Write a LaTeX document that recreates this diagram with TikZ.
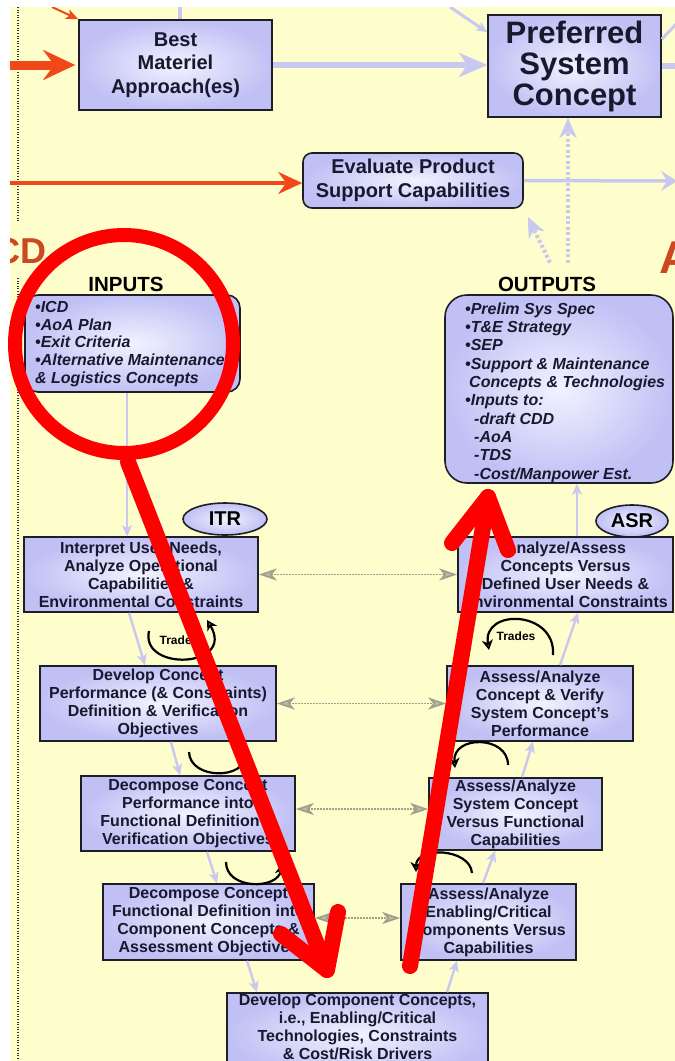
\documentclass[tikz,border=0pt]{standalone}
\usepackage{fontspec}
\setmainfont{Liberation Sans}
\usetikzlibrary{arrows.meta,shapes.geometric}

\definecolor{paper}{RGB}{254,253,204}
\definecolor{boxout}{RGB}{192,192,245}
\definecolor{boxin}{RGB}{242,242,255}
\definecolor{boxline}{RGB}{30,30,40}
\definecolor{txt}{RGB}{24,24,46}
\definecolor{lav}{RGB}{200,200,240}
\definecolor{flame}{RGB}{240,72,24}
\definecolor{dotgray}{RGB}{160,160,140}
\definecolor{brick}{RGB}{204,72,30}
\definecolor{penred}{RGB}{255,0,0}

\tikzset{
  stepbox/.style={draw=boxline, line width=1.6pt, inner color=boxin, outer color=boxout,
    align=center, text=txt, inner sep=0pt, font=\bfseries\fontsize{16}{18}\selectfont},
  roundbox/.style={stepbox, rounded corners=#1},
  listtext/.style={anchor=north west, align=left, inner sep=0pt, text=txt,
    font=\bfseries\itshape\fontsize{16}{#1}\selectfont},
  heading/.style={inner sep=0pt, text=black, font=\bfseries\fontsize{20.5}{24}\selectfont},
  review/.style={ellipse, draw=boxline, line width=1.6pt, inner color=boxin, outer color=boxout,
    inner sep=0pt, text=black, font=\bfseries\fontsize{20}{24}\selectfont},
  phase/.style={inner sep=0pt, text=brick},
  flow/.style={draw=lav, line width=2.4pt, -{Stealth[length=11pt,width=10pt,inset=3pt]}},
  bigflow/.style={draw=lav, line width=6pt, -{Stealth[length=28pt,width=24pt,inset=8pt]}},
  dotflow/.style={draw=lav, line width=4pt, dash pattern=on 3pt off 2.5pt,
    -{Stealth[length=20pt,width=17pt,inset=6pt]}},
  thickfeed/.style={draw=flame, line width=9pt, shorten >=3pt,
    -{Stealth[length=32pt,width=30pt,inset=11pt]}},
  feedline/.style={draw=flame, line width=3.5pt, -{Stealth[length=24pt,width=22pt,inset=8pt]}},
  thinfeed/.style={draw=flame, line width=2pt, -{Stealth[length=12pt,width=10pt,inset=3pt]}},
  link/.style={draw=dotgray, line width=1.8pt, dash pattern=on 1.6pt off 1.4pt,
    {Stealth[length=18pt,width=12pt,inset=5pt,fill=dotgray!70]}-{Stealth[length=18pt,width=12pt,inset=5pt,fill=dotgray!70]}},
  trade/.style={draw=black, line width=2.2pt, -{Stealth[length=10pt,width=11pt,inset=3pt,fill=lav]}},
  tradelbl/.style={inner sep=0pt, text=black, font=\bfseries\fontsize{12}{14}\selectfont},
  dotrule/.style={draw=black!80, line width=1.2pt, dash pattern=on 1pt off 1.6pt},
  penstroke/.style={draw=penred, line width=16pt, line cap=round, line join=round},
}

\begin{document}
\begin{tikzpicture}[x=1pt,y=-1pt]
\useasboundingbox (0,0) rectangle (675,1061);
\fill[white] (0,0) rectangle (675,1061);
\fill[paper] (10,7) rectangle (675,1061);

\begin{scope}
\clip (10,7) rectangle (675,1061);

% phase lettering cut by the sheet edges
\node[phase, anchor=base east, font=\bfseries\fontsize{36}{36}\selectfont] (phaseL) at (47,263) {CD};
\node[phase, anchor=base west, font=\bfseries\fontsize{46}{46}\selectfont] (phaseR) at (659,273) {A};

% dotted milestone rule on the left
\draw[dotrule] (18,7) -- (18,222);
\draw[dotrule] (18,278) -- (18,1061);

% top row
\node[stepbox, minimum width=193pt, minimum height=90pt, font=\bfseries\fontsize{20}{23.5}\selectfont]
  (best) at (175.5,65) {Best\\Materiel\\Approach(es)};
\node[stepbox, minimum width=173pt, minimum height=102pt, font=\bfseries\fontsize{31}{31}\selectfont]
  (pref) at (574.5,66) {Preferred\\System\\Concept};
\node[roundbox=9pt, minimum width=220pt, minimum height=55pt, font=\bfseries\fontsize{20}{24}\selectfont]
  (eval) at (413,180.5) {Evaluate Product\\Support Capabilities};

% inputs and outputs
\node[heading] (inlbl) at (126,284) {INPUTS};
\node[heading] (outlbl) at (547,284) {OUTPUTS};
\node[roundbox=13pt, minimum width=215pt, minimum height=97pt] (inbox) at (132.5,343.5) {};
\node[listtext=17.8] (intxt) at (35,301) {\textbullet ICD\\\textbullet AoA Plan\\\textbullet Exit Criteria\\\textbullet Alternative Maintenance\\\& Logistics Concepts};
\node[roundbox=22pt, minimum width=228pt, minimum height=188pt] (outbox) at (559,389) {};
\node[listtext=18.3] (outtxt) at (465,302.5) {\textbullet Prelim Sys Spec\\\textbullet T\&E Strategy\\\textbullet SEP\\\textbullet Support \& Maintenance\\\hspace*{4pt}Concepts \& Technologies\\\textbullet Inputs to:\\\hspace*{9pt}-draft CDD\\\hspace*{9pt}-AoA\\\hspace*{9pt}-TDS\\\hspace*{9pt}-Cost/Manpower Est.};

% technical reviews
\node[review, minimum width=84pt, minimum height=32pt] (itr) at (225,519) {ITR};
\node[review, minimum width=72pt, minimum height=32pt] (asr) at (632,521) {ASR};

% decomposition (left leg)
\node[stepbox, minimum width=234pt, minimum height=75pt] (l1) at (141,574.5)
  {Interpret User Needs,\\Analyze Operational\\Capabilities \&\\Environmental Constraints};
\node[stepbox, minimum width=236pt, minimum height=75pt] (l2) at (158,703.5)
  {Develop Concept\\Performance (\& Constraints)\\Definition \& Verification\\Objectives};
\node[stepbox, minimum width=214pt, minimum height=75pt] (l3) at (188,813.5)
  {Decompose Concept\\Performance into\\Functional Definition \&\\Verification Objectives};
\node[stepbox, minimum width=211pt, minimum height=76pt] (l4) at (208.5,922)
  {Decompose Concept\\Functional Definition into\\Component Concepts \&\\Assessment Objectives};

% bottom of the vee
\node[stepbox, minimum width=261pt, minimum height=84pt] (dev) at (357.5,1035) {};
\node[inner sep=0pt, align=center, text=txt, font=\bfseries\fontsize{16}{18}\selectfont] (devtxt) at (357.5,1027)
  {Develop Component Concepts,\\i.e., Enabling/Critical\\Technologies, Constraints\\\& Cost/Risk Drivers};

% assessment (right leg)
\node[stepbox, minimum width=215pt, minimum height=75pt] (r1) at (565.5,574.5)
  {Analyze/Assess\\Concepts Versus\\Defined User Needs \&\\Environmental Constraints};
\node[stepbox, minimum width=186pt, minimum height=75pt] (r2) at (540,703.5)
  {Assess/Analyze\\Concept \& Verify\\System Concept's\\Performance};
\node[stepbox, minimum width=173pt, minimum height=72pt] (r3) at (515.5,814)
  {Assess/Analyze\\System Concept\\Versus Functional\\Capabilities};
\node[stepbox, minimum width=175pt, minimum height=76pt] (r4) at (488.5,922)
  {Assess/Analyze\\Enabling/Critical\\Components Versus\\Capabilities};

% feeds from the previous phase
\coordinate (feedA) at (10,65);
\coordinate (feedB) at (52,7);
\coordinate (feedC) at (10,183);
\draw[thickfeed] (feedA) -- (best.west);
\draw[thinfeed] (feedB) -- (best.north west);
\draw[feedline] (feedC) -- (feedC -| eval.west);

% lavender flows along the top
\coordinate (topA) at (180,7);
\coordinate (topB) at (450,7);
\coordinate (prefOut) at (678,66);
\coordinate (prefUp) at (680,20);
\coordinate (evalOut) at (677,181);
\draw[draw=lav, line width=3.5pt] (topA) -- (topA |- best.north);
\draw[flow, line width=3pt] (topB) -- ([yshift=-18pt]pref.north west);
\draw[bigflow] (best.east) -- (best.east -| pref.west);
\draw[draw=lav, line width=6pt] (pref.east) -- (prefOut);
\draw[draw=lav, line width=3pt] ([yshift=-25pt]pref.north east) -- (prefUp);
\draw[draw=lav, line width=3.5pt, -{Stealth[length=16pt,width=20pt,inset=6pt]}] (eval.east) -- (evalOut);
\draw[dotflow] ([xshift=21pt,yshift=14pt]outlbl.north) -- ([xshift=-6.5pt]pref.south);
\draw[dotflow] ([xshift=3pt,yshift=14pt]outlbl.north) -- ([xshift=4pt,yshift=-8pt]eval.south east);

% flow down the left leg, across the bottom, up the right leg
\draw[flow] ([xshift=-5.5pt]inbox.south) -- ([xshift=-14pt]l1.north);
\draw[flow] ([xshift=-12pt]l1.south) -- ([xshift=-13pt]l2.north);
\draw[flow] ([xshift=13pt]l2.south) -- ([xshift=-8pt]l3.north);
\draw[flow] ([xshift=19pt]l3.south) -- ([xshift=8.5pt]l4.north);
\draw[flow] ([xshift=38.5pt]l4.south) -- ([xshift=-100.5pt]dev.north);
\draw[flow] ([xshift=89.5pt]dev.north) -- ([xshift=-31.5pt]r4.south);
\draw[flow] ([xshift=-5.5pt]r4.north) -- ([xshift=-20.5pt]r3.south);
\draw[flow] ([xshift=6.5pt]r3.north) -- ([xshift=-7pt]r2.south);
\draw[flow] ([xshift=20pt]r2.north) -- ([xshift=12.5pt]r1.south);
\draw[flow] ([xshift=11.5pt]r1.north) -- ([xshift=18pt]outbox.south);

% verification links across the vee
\draw[link] (l1.east) -- (r1.west);
\draw[link] (l2.east) -- (r2.west);
\draw[link] ([yshift=4.5pt]l3.east) -- ([yshift=4.5pt]l3.east -| r3.west);
\draw[link] ([yshift=4pt]l4.east) -- ([yshift=4pt]l4.east -| r4.west);

% trade-study loops
\coordinate (t1a) at (149,631); \coordinate (t1b) at (207,620);
\coordinate (t2a) at (553,655); \coordinate (t2b) at (489,650);
\coordinate (t3a) at (189,752); \coordinate (t3b) at (246,748);
\coordinate (t4a) at (508,765); \coordinate (t4b) at (455,768);
\coordinate (t5a) at (226,862); \coordinate (t5b) at (282,864);
\coordinate (t6a) at (472,873); \coordinate (t6b) at (416,872);
\draw[trade] (t1a) .. controls (140,672) and (236,668) .. (t1b);
\draw[trade] (t2a) .. controls (556,610) and (482,608) .. (t2b);
\draw[trade] (t3a) .. controls (190,780) and (246,780) .. (t3b);
\draw[trade] (t4a) .. controls (508,735) and (452,735) .. (t4b);
\draw[trade] (t5a) .. controls (226,890) and (278,890) .. (t5b);
\draw[trade] (t6a) .. controls (470,848) and (416,846) .. (t6b);
\node[tradelbl] (trade1) at (179,640) {Trades};
\node[tradelbl] (trade2) at (516,636) {Trades};
\end{scope}

% red mark-up: ring round the inputs, arrow down the left leg, arrow up the right leg
\coordinate (ring) at (124,344);
\draw[draw=penred, line width=14pt] (ring) circle[radius=109pt];
\coordinate (downA) at (128,462);
\coordinate (downB) at (327,970);
\coordinate (downL) at (281,934);
\coordinate (downR) at (338,912);
\draw[penstroke] (downA) -- (downB);
\draw[penstroke] (downL) -- (downB) -- (downR);
\coordinate (upA) at (410,966);
\coordinate (upB) at (488,497);
\coordinate (upL) at (452,543);
\coordinate (upR) at (508,550);
\draw[penstroke] (upA) -- (upB);
\draw[penstroke] (upL) -- (upB) -- (upR);
\end{tikzpicture}
\end{document}
